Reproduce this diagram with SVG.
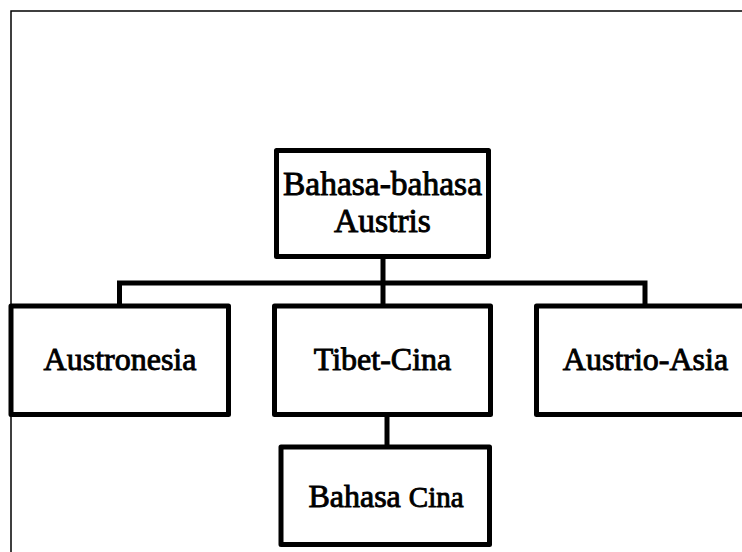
<svg xmlns="http://www.w3.org/2000/svg" width="742" height="552" viewBox="0 0 742 552">
<style>
.box{fill:#fff;stroke:#000;stroke-width:5;stroke-linejoin:round}
.lbl{font-family:"Liberation Serif","Times New Roman",serif;font-size:32px;fill:#000;stroke:#000;stroke-width:0.9;text-anchor:middle}
.big{font-size:33.5px}
.con{fill:none;stroke:#000;stroke-width:5}
.frame{fill:none;stroke:#000;stroke-width:1.5}
</style>
<rect width="742" height="552" fill="#fff"/>
<path class="frame" d="M11,560 V11 H750"/>
<g id="connectors">
<path class="con" d="M383,256 V306"/>
<path class="con" d="M119.5,306 V283 H645 V306"/>
<path class="con" d="M387,414 V447"/>
</g>
<g id="root">
<rect class="box" x="276.5" y="150.5" width="212" height="106"/>
<text class="lbl big" x="382.5" y="195">Bahasa-bahasa</text>
<text class="lbl big" x="382.5" y="232">Austris</text>
</g>
<g id="austronesia">
<rect class="box" x="11" y="306" width="217.5" height="108.5"/>
<text class="lbl" x="120" y="370">Austronesia</text>
</g>
<g id="tibet-cina">
<rect class="box" x="274.5" y="306" width="216" height="108.5"/>
<text class="lbl" x="382.5" y="370">Tibet-Cina</text>
</g>
<g id="austrio-asia">
<rect class="box" x="536.5" y="306" width="217.5" height="108.5"/>
<text class="lbl" x="645.5" y="370">Austrio-Asia</text>
</g>
<g id="bahasa-cina">
<rect class="box" x="281" y="447" width="208.5" height="97.5"/>
<text class="lbl" x="386" y="507">Bahasa <tspan font-size="29">Cina</tspan></text>
</g>
</svg>
